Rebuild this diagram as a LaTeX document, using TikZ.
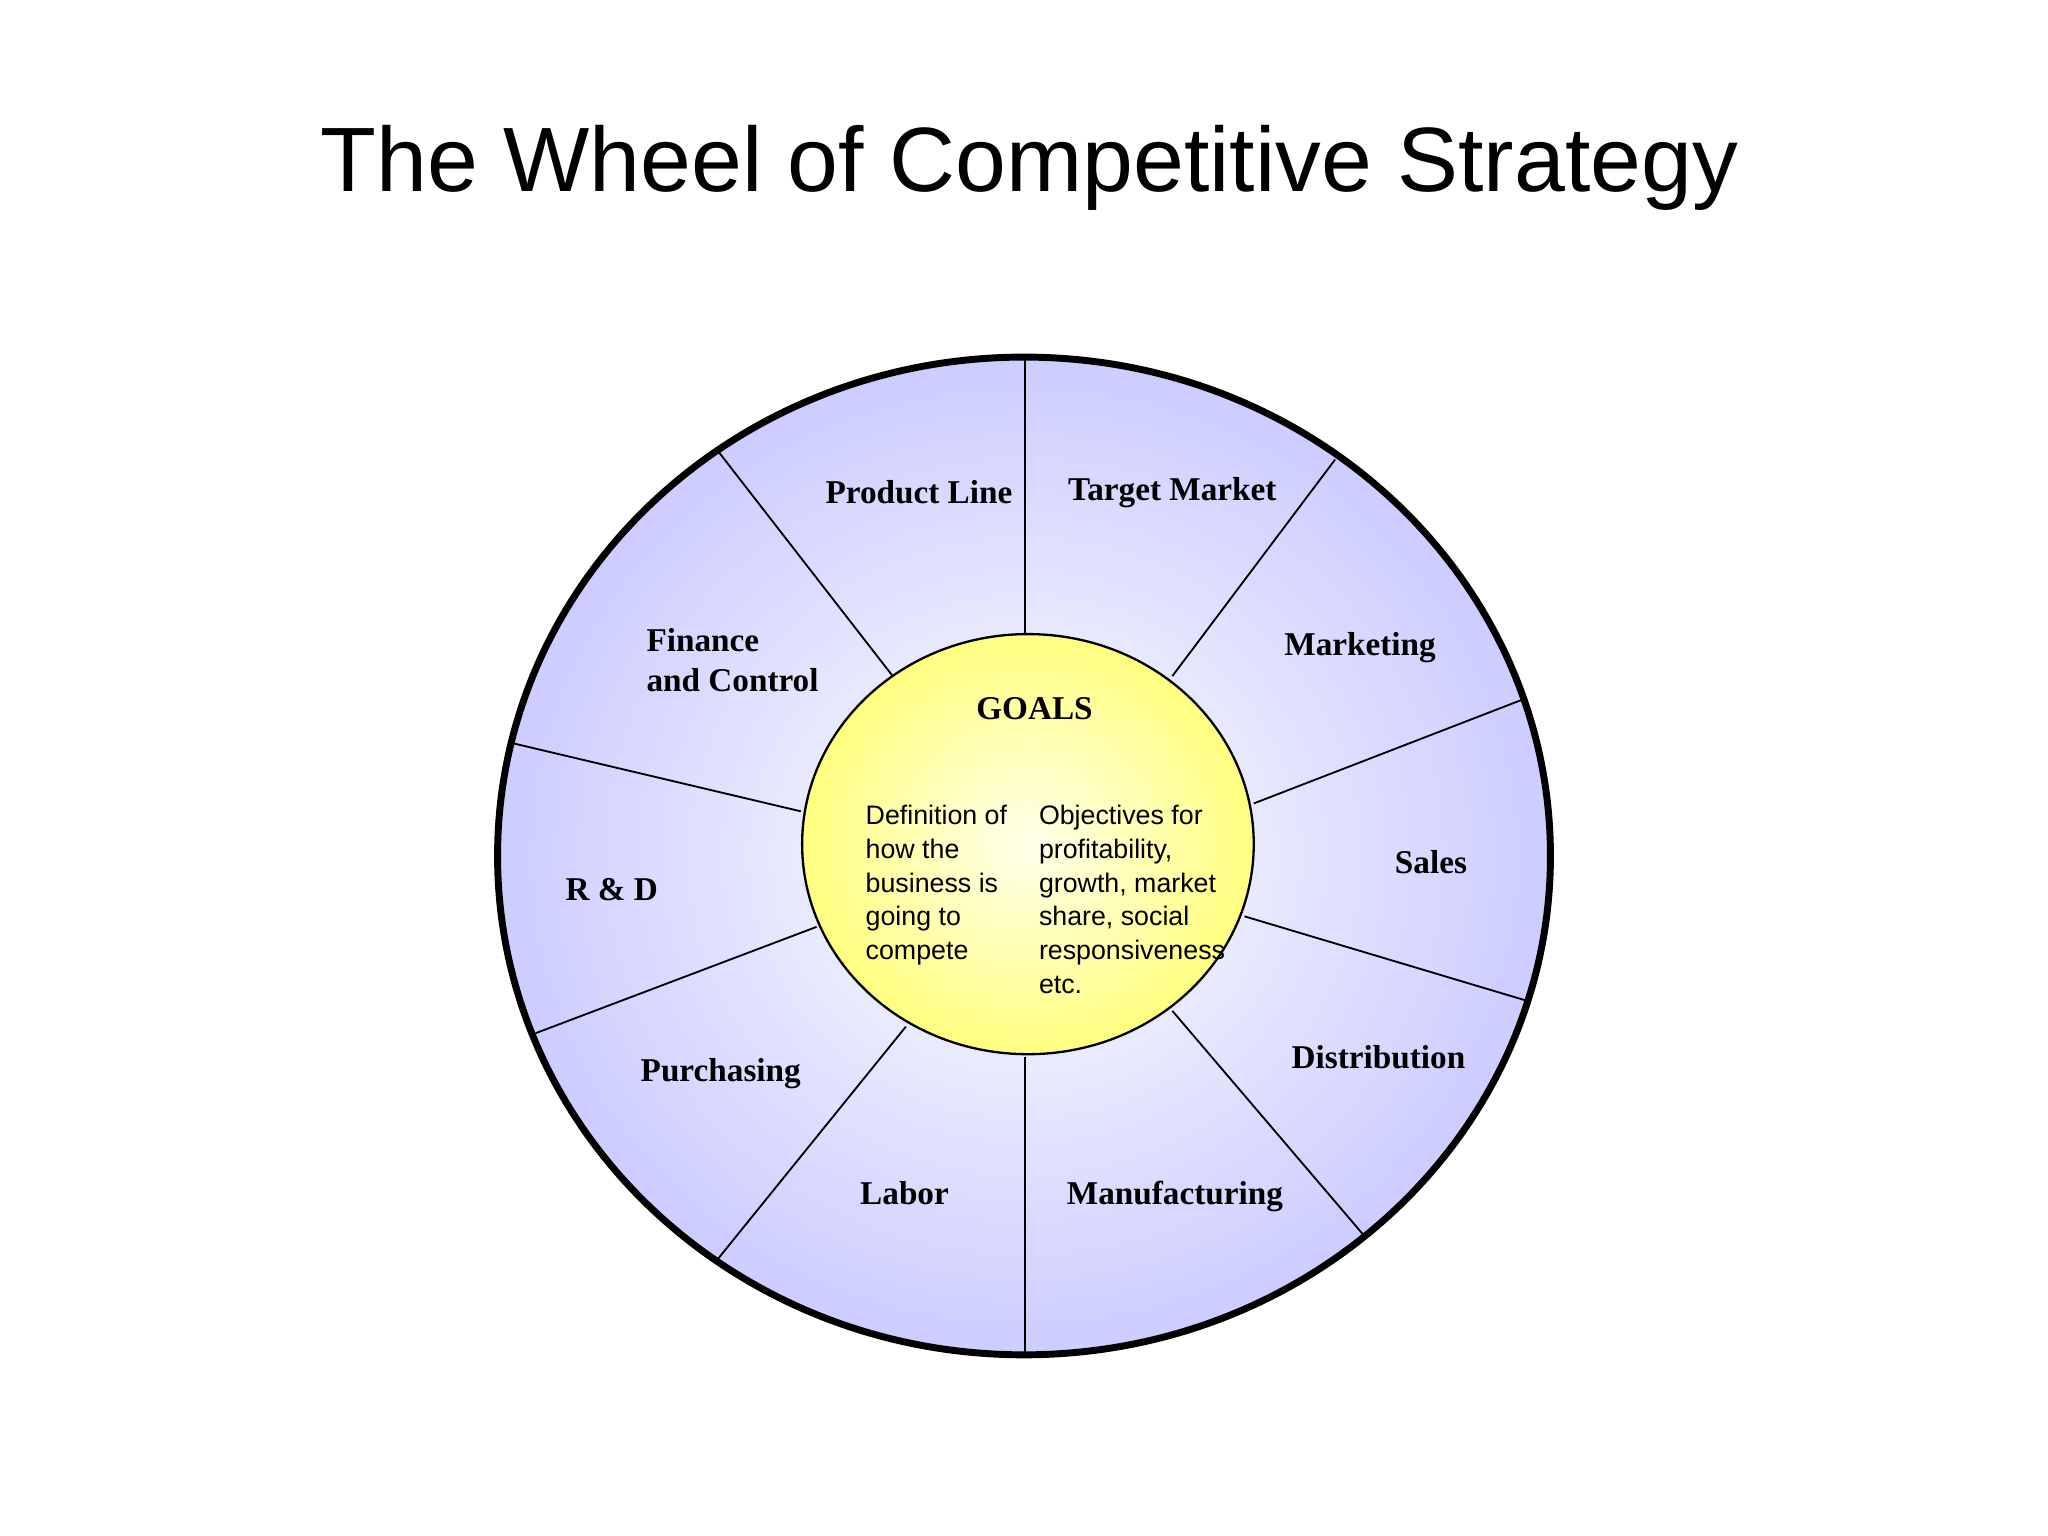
\documentclass[tikz,border=0pt]{standalone}
\usepackage{fontspec}
\setmainfont{Liberation Serif}
\newfontfamily\sansf{Liberation Sans}
\usetikzlibrary{positioning}
\tikzset{
  sector/.style={font=\fontsize{7.2}{8.6}\selectfont\bfseries, align=left},
  innertext/.style={font=\sansf\fontsize{5.8}{7.3}\selectfont, align=left, anchor=north west},
  spoke/.style={line width=0.4pt}
}
\begin{document}
\begin{tikzpicture}[x=0.01cm,y=-0.01cm]
\useasboundingbox (0,0) rectangle (1560,1170);
        % Title
        \node[font=\sansf\fontsize{19.8}{23}\selectfont] (title) at (784,128) {The Wheel of Competitive Strategy};
        % Wheel
        \shade[inner color=white, outer color=blue!20!white, draw=black, line width=1.5pt]
            (780,652) ellipse [x radius=401, y radius=380];
        \foreach \ax/\ay/\bx/\by in {781/483/781/273, 680/515/548/345, 610/618/390/566,
                622/706/408/787, 690/782/546/960, 781/805/781/1030, 893/770/1038/940,
                948/698/1162/762, 955/612/1162/532, 893/515/1017/350}
            \draw[spoke] (\ax,\ay) -- (\bx,\by);
        % Hub
        \shade[inner color=yellow!8!white, outer color=yellow!50!white, draw=black, line width=0.5pt]
            (783,643) ellipse [x radius=172, y radius=160];
        \node[sector] (goals) at (788,540) {GOALS};
        \node[innertext] (def) at (647,601) {Definition of\\how the\\business is\\going to\\compete};
        \node[innertext] (obj) at (779,601) {Objectives for\\profitability,\\growth, market\\share, social\\responsiveness\\etc.};
        % Sectors
        \node[sector] (prod) at (700,375) {Product Line};
        \node[sector] (target) at (893,375) {Target Market};
        \node[sector] (mkt) at (1036,493) {Marketing};
        \node[sector] (sales) at (1090,657) {Sales};
        \node[sector] (dist) at (1050,805) {Distribution};
        \node[sector] (manu) at (895,911) {Manufacturing};
        \node[sector] (labor) at (689,909) {Labor};
        \node[sector] (purch) at (549,818) {Purchasing};
        \node[sector] (rd) at (466,678) {R \& D};
        \node[sector] (fin) at (558,503) {Finance\\and Control};
\end{tikzpicture}
\end{document}
